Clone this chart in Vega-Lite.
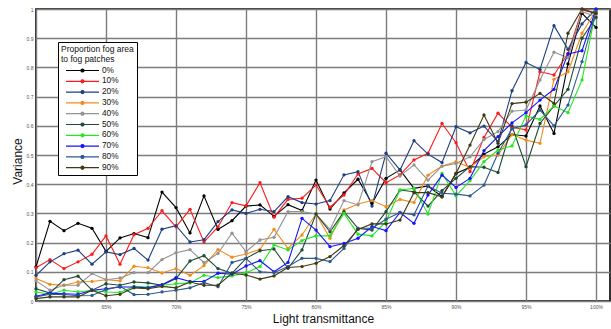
{
"$schema":"https://vega.github.io/schema/vega-lite/v6.json",
"width":574,"height":292,"autosize":"none",
"padding":{"left":36,"top":9,"right":1,"bottom":28},
"background":"white",
"config":{
"font":"Liberation Sans",
"view":{"stroke":"#000","strokeWidth":1.6},
"axis":{"gridColor":"#7c7c7c","gridWidth":1.4,"gridOpacity":1,"domain":false,"ticks":false,"labelFontSize":5,"labelColor":"#555","titleFontWeight":"normal","titleFontSize":12,"titleColor":"#111"},
"legend":{"orient":"none","legendX":22,"legendY":33,"strokeColor":"#000","fillColor":"#fff","padding":3,"titleFontSize":8.5,"titleFontWeight":"normal","titleColor":"#111","titleLineHeight":10,"titlePadding":2,"labelFontSize":8.3,"labelColor":"#111","symbolType":"M0,0H8.25M3.75,0a0.375,0.375 0 1,0 0.75,0a0.375,0.375 0 1,0 -0.75,0","symbolSize":64,"symbolStrokeWidth":1.2,"labelOffset":31,"rowPadding":1.8}
},
"data":{"values":[
{"s":"0%","x":60,"y":0.117},{"s":"0%","x":61,"y":0.273},{"s":"0%","x":62,"y":0.241},{"s":"0%","x":63,"y":0.266},{"s":"0%","x":64,"y":0.249},{"s":"0%","x":65,"y":0.17},{"s":"0%","x":66,"y":0.216},{"s":"0%","x":67,"y":0.231},{"s":"0%","x":68,"y":0.217},{"s":"0%","x":69,"y":0.373},{"s":"0%","x":70,"y":0.32},{"s":"0%","x":71,"y":0.233},{"s":"0%","x":72,"y":0.36},{"s":"0%","x":73,"y":0.245},{"s":"0%","x":74,"y":0.275},{"s":"0%","x":75,"y":0.325},{"s":"0%","x":76,"y":0.329},{"s":"0%","x":77,"y":0.29},{"s":"0%","x":78,"y":0.33},{"s":"0%","x":79,"y":0.31},{"s":"0%","x":80,"y":0.414},{"s":"0%","x":81,"y":0.315},{"s":"0%","x":82,"y":0.37},{"s":"0%","x":83,"y":0.417},{"s":"0%","x":84,"y":0.334},{"s":"0%","x":85,"y":0.42},{"s":"0%","x":86,"y":0.449},{"s":"0%","x":87,"y":0.386},{"s":"0%","x":88,"y":0.394},{"s":"0%","x":89,"y":0.357},{"s":"0%","x":90,"y":0.437},{"s":"0%","x":91,"y":0.458},{"s":"0%","x":92,"y":0.503},{"s":"0%","x":93,"y":0.528},{"s":"0%","x":94,"y":0.57},{"s":"0%","x":95,"y":0.565},{"s":"0%","x":96,"y":0.668},{"s":"0%","x":97,"y":0.574},{"s":"0%","x":98,"y":0.812},{"s":"0%","x":99,"y":0.985},{"s":"0%","x":100,"y":0.937},
{"s":"10%","x":60,"y":0.114},{"s":"10%","x":61,"y":0.142},{"s":"10%","x":62,"y":0.111},{"s":"10%","x":63,"y":0.134},{"s":"10%","x":64,"y":0.16},{"s":"10%","x":65,"y":0.223},{"s":"10%","x":66,"y":0.126},{"s":"10%","x":67,"y":0.227},{"s":"10%","x":68,"y":0.249},{"s":"10%","x":69,"y":0.309},{"s":"10%","x":70,"y":0.254},{"s":"10%","x":71,"y":0.314},{"s":"10%","x":72,"y":0.202},{"s":"10%","x":73,"y":0.254},{"s":"10%","x":74,"y":0.337},{"s":"10%","x":75,"y":0.326},{"s":"10%","x":76,"y":0.405},{"s":"10%","x":77,"y":0.287},{"s":"10%","x":78,"y":0.348},{"s":"10%","x":79,"y":0.352},{"s":"10%","x":80,"y":0.397},{"s":"10%","x":81,"y":0.321},{"s":"10%","x":82,"y":0.363},{"s":"10%","x":83,"y":0.435},{"s":"10%","x":84,"y":0.454},{"s":"10%","x":85,"y":0.405},{"s":"10%","x":86,"y":0.432},{"s":"10%","x":87,"y":0.483},{"s":"10%","x":88,"y":0.506},{"s":"10%","x":89,"y":0.608},{"s":"10%","x":90,"y":0.542},{"s":"10%","x":91,"y":0.443},{"s":"10%","x":92,"y":0.56},{"s":"10%","x":93,"y":0.643},{"s":"10%","x":94,"y":0.595},{"s":"10%","x":95,"y":0.586},{"s":"10%","x":96,"y":0.785},{"s":"10%","x":97,"y":0.774},{"s":"10%","x":98,"y":0.848},{"s":"10%","x":99,"y":0.997},{"s":"10%","x":100,"y":0.985},
{"s":"20%","x":60,"y":0.088},{"s":"20%","x":61,"y":0.134},{"s":"20%","x":62,"y":0.162},{"s":"20%","x":63,"y":0.174},{"s":"20%","x":64,"y":0.126},{"s":"20%","x":65,"y":0.168},{"s":"20%","x":66,"y":0.159},{"s":"20%","x":67,"y":0.18},{"s":"20%","x":68,"y":0.14},{"s":"20%","x":69,"y":0.246},{"s":"20%","x":70,"y":0.258},{"s":"20%","x":71,"y":0.202},{"s":"20%","x":72,"y":0.21},{"s":"20%","x":73,"y":0.272},{"s":"20%","x":74,"y":0.312},{"s":"20%","x":75,"y":0.3},{"s":"20%","x":76,"y":0.314},{"s":"20%","x":77,"y":0.306},{"s":"20%","x":78,"y":0.357},{"s":"20%","x":79,"y":0.337},{"s":"20%","x":80,"y":0.332},{"s":"20%","x":81,"y":0.344},{"s":"20%","x":82,"y":0.432},{"s":"20%","x":83,"y":0.443},{"s":"20%","x":84,"y":0.325},{"s":"20%","x":85,"y":0.506},{"s":"20%","x":86,"y":0.449},{"s":"20%","x":87,"y":0.549},{"s":"20%","x":88,"y":0.503},{"s":"20%","x":89,"y":0.474},{"s":"20%","x":90,"y":0.597},{"s":"20%","x":91,"y":0.576},{"s":"20%","x":92,"y":0.599},{"s":"20%","x":93,"y":0.546},{"s":"20%","x":94,"y":0.72},{"s":"20%","x":95,"y":0.817},{"s":"20%","x":96,"y":0.793},{"s":"20%","x":97,"y":0.943},{"s":"20%","x":98,"y":0.862},{"s":"20%","x":99,"y":0.949},{"s":"20%","x":100,"y":1.0},
{"s":"30%","x":60,"y":0.077},{"s":"30%","x":61,"y":0.057},{"s":"30%","x":62,"y":0.054},{"s":"30%","x":63,"y":0.065},{"s":"30%","x":64,"y":0.067},{"s":"30%","x":65,"y":0.073},{"s":"30%","x":66,"y":0.069},{"s":"30%","x":67,"y":0.119},{"s":"30%","x":68,"y":0.114},{"s":"30%","x":69,"y":0.096},{"s":"30%","x":70,"y":0.111},{"s":"30%","x":71,"y":0.088},{"s":"30%","x":72,"y":0.121},{"s":"30%","x":73,"y":0.176},{"s":"30%","x":74,"y":0.15},{"s":"30%","x":75,"y":0.161},{"s":"30%","x":76,"y":0.177},{"s":"30%","x":77,"y":0.245},{"s":"30%","x":78,"y":0.18},{"s":"30%","x":79,"y":0.226},{"s":"30%","x":80,"y":0.298},{"s":"30%","x":81,"y":0.215},{"s":"30%","x":82,"y":0.312},{"s":"30%","x":83,"y":0.332},{"s":"30%","x":84,"y":0.344},{"s":"30%","x":85,"y":0.323},{"s":"30%","x":86,"y":0.348},{"s":"30%","x":87,"y":0.337},{"s":"30%","x":88,"y":0.431},{"s":"30%","x":89,"y":0.462},{"s":"30%","x":90,"y":0.477},{"s":"30%","x":91,"y":0.458},{"s":"30%","x":92,"y":0.494},{"s":"30%","x":93,"y":0.5},{"s":"30%","x":94,"y":0.57},{"s":"30%","x":95,"y":0.551},{"s":"30%","x":96,"y":0.54},{"s":"30%","x":97,"y":0.759},{"s":"30%","x":98,"y":0.785},{"s":"30%","x":99,"y":0.917},{"s":"30%","x":100,"y":0.995},
{"s":"40%","x":60,"y":0.069},{"s":"40%","x":61,"y":0.037},{"s":"40%","x":62,"y":0.054},{"s":"40%","x":63,"y":0.054},{"s":"40%","x":64,"y":0.094},{"s":"40%","x":65,"y":0.073},{"s":"40%","x":66,"y":0.079},{"s":"40%","x":67,"y":0.097},{"s":"40%","x":68,"y":0.097},{"s":"40%","x":69,"y":0.142},{"s":"40%","x":70,"y":0.165},{"s":"40%","x":71,"y":0.176},{"s":"40%","x":72,"y":0.131},{"s":"40%","x":73,"y":0.163},{"s":"40%","x":74,"y":0.232},{"s":"40%","x":75,"y":0.169},{"s":"40%","x":76,"y":0.209},{"s":"40%","x":77,"y":0.218},{"s":"40%","x":78,"y":0.306},{"s":"40%","x":79,"y":0.306},{"s":"40%","x":80,"y":0.298},{"s":"40%","x":81,"y":0.245},{"s":"40%","x":82,"y":0.344},{"s":"40%","x":83,"y":0.329},{"s":"40%","x":84,"y":0.477},{"s":"40%","x":85,"y":0.494},{"s":"40%","x":86,"y":0.428},{"s":"40%","x":87,"y":0.466},{"s":"40%","x":88,"y":0.414},{"s":"40%","x":89,"y":0.462},{"s":"40%","x":90,"y":0.471},{"s":"40%","x":91,"y":0.494},{"s":"40%","x":92,"y":0.553},{"s":"40%","x":93,"y":0.58},{"s":"40%","x":94,"y":0.65},{"s":"40%","x":95,"y":0.654},{"s":"40%","x":96,"y":0.757},{"s":"40%","x":97,"y":0.852},{"s":"40%","x":98,"y":0.834},{"s":"40%","x":99,"y":0.991},{"s":"40%","x":100,"y":0.974},
{"s":"50%","x":60,"y":0.042},{"s":"50%","x":61,"y":0.027},{"s":"50%","x":62,"y":0.073},{"s":"50%","x":63,"y":0.085},{"s":"50%","x":64,"y":0.037},{"s":"50%","x":65,"y":0.059},{"s":"50%","x":66,"y":0.054},{"s":"50%","x":67,"y":0.065},{"s":"50%","x":68,"y":0.062},{"s":"50%","x":69,"y":0.054},{"s":"50%","x":70,"y":0.077},{"s":"50%","x":71,"y":0.137},{"s":"50%","x":72,"y":0.155},{"s":"50%","x":73,"y":0.111},{"s":"50%","x":74,"y":0.095},{"s":"50%","x":75,"y":0.146},{"s":"50%","x":76,"y":0.172},{"s":"50%","x":77,"y":0.178},{"s":"50%","x":78,"y":0.112},{"s":"50%","x":79,"y":0.175},{"s":"50%","x":80,"y":0.298},{"s":"50%","x":81,"y":0.237},{"s":"50%","x":82,"y":0.306},{"s":"50%","x":83,"y":0.249},{"s":"50%","x":84,"y":0.243},{"s":"50%","x":85,"y":0.306},{"s":"50%","x":86,"y":0.38},{"s":"50%","x":87,"y":0.374},{"s":"50%","x":88,"y":0.325},{"s":"50%","x":89,"y":0.378},{"s":"50%","x":90,"y":0.42},{"s":"50%","x":91,"y":0.46},{"s":"50%","x":92,"y":0.458},{"s":"50%","x":93,"y":0.44},{"s":"50%","x":94,"y":0.6},{"s":"50%","x":95,"y":0.46},{"s":"50%","x":96,"y":0.608},{"s":"50%","x":97,"y":0.668},{"s":"50%","x":98,"y":0.725},{"s":"50%","x":99,"y":0.9},{"s":"50%","x":100,"y":0.971},
{"s":"60%","x":60,"y":0.031},{"s":"60%","x":61,"y":0.023},{"s":"60%","x":62,"y":0.037},{"s":"60%","x":63,"y":0.031},{"s":"60%","x":64,"y":0.037},{"s":"60%","x":65,"y":0.031},{"s":"60%","x":66,"y":0.029},{"s":"60%","x":67,"y":0.05},{"s":"60%","x":68,"y":0.048},{"s":"60%","x":69,"y":0.054},{"s":"60%","x":70,"y":0.059},{"s":"60%","x":71,"y":0.062},{"s":"60%","x":72,"y":0.088},{"s":"60%","x":73,"y":0.08},{"s":"60%","x":74,"y":0.086},{"s":"60%","x":75,"y":0.097},{"s":"60%","x":76,"y":0.118},{"s":"60%","x":77,"y":0.192},{"s":"60%","x":78,"y":0.175},{"s":"60%","x":79,"y":0.207},{"s":"60%","x":80,"y":0.223},{"s":"60%","x":81,"y":0.223},{"s":"60%","x":82,"y":0.3},{"s":"60%","x":83,"y":0.229},{"s":"60%","x":84,"y":0.223},{"s":"60%","x":85,"y":0.272},{"s":"60%","x":86,"y":0.38},{"s":"60%","x":87,"y":0.386},{"s":"60%","x":88,"y":0.298},{"s":"60%","x":89,"y":0.437},{"s":"60%","x":90,"y":0.36},{"s":"60%","x":91,"y":0.412},{"s":"60%","x":92,"y":0.477},{"s":"60%","x":93,"y":0.517},{"s":"60%","x":94,"y":0.531},{"s":"60%","x":95,"y":0.634},{"s":"60%","x":96,"y":0.622},{"s":"60%","x":97,"y":0.668},{"s":"60%","x":98,"y":0.645},{"s":"60%","x":99,"y":0.757},{"s":"60%","x":100,"y":0.997},
{"s":"70%","x":60,"y":0.016},{"s":"70%","x":61,"y":0.027},{"s":"70%","x":62,"y":0.025},{"s":"70%","x":63,"y":0.023},{"s":"70%","x":64,"y":0.037},{"s":"70%","x":65,"y":0.042},{"s":"70%","x":66,"y":0.048},{"s":"70%","x":67,"y":0.048},{"s":"70%","x":68,"y":0.045},{"s":"70%","x":69,"y":0.056},{"s":"70%","x":70,"y":0.08},{"s":"70%","x":71,"y":0.067},{"s":"70%","x":72,"y":0.067},{"s":"70%","x":73,"y":0.095},{"s":"70%","x":74,"y":0.092},{"s":"70%","x":75,"y":0.12},{"s":"70%","x":76,"y":0.138},{"s":"70%","x":77,"y":0.1},{"s":"70%","x":78,"y":0.132},{"s":"70%","x":79,"y":0.283},{"s":"70%","x":80,"y":0.243},{"s":"70%","x":81,"y":0.186},{"s":"70%","x":82,"y":0.197},{"s":"70%","x":83,"y":0.215},{"s":"70%","x":84,"y":0.255},{"s":"70%","x":85,"y":0.241},{"s":"70%","x":86,"y":0.303},{"s":"70%","x":87,"y":0.266},{"s":"70%","x":88,"y":0.363},{"s":"70%","x":89,"y":0.431},{"s":"70%","x":90,"y":0.389},{"s":"70%","x":91,"y":0.42},{"s":"70%","x":92,"y":0.515},{"s":"70%","x":93,"y":0.563},{"s":"70%","x":94,"y":0.61},{"s":"70%","x":95,"y":0.645},{"s":"70%","x":96,"y":0.688},{"s":"70%","x":97,"y":0.725},{"s":"70%","x":98,"y":0.846},{"s":"70%","x":99,"y":0.857},{"s":"70%","x":100,"y":0.999},
{"s":"80%","x":60,"y":0.014},{"s":"80%","x":61,"y":0.023},{"s":"80%","x":62,"y":0.022},{"s":"80%","x":63,"y":0.018},{"s":"80%","x":64,"y":0.019},{"s":"80%","x":65,"y":0.039},{"s":"80%","x":66,"y":0.05},{"s":"80%","x":67,"y":0.022},{"s":"80%","x":68,"y":0.023},{"s":"80%","x":69,"y":0.031},{"s":"80%","x":70,"y":0.037},{"s":"80%","x":71,"y":0.045},{"s":"80%","x":72,"y":0.063},{"s":"80%","x":73,"y":0.049},{"s":"80%","x":74,"y":0.132},{"s":"80%","x":75,"y":0.146},{"s":"80%","x":76,"y":0.1},{"s":"80%","x":77,"y":0.097},{"s":"80%","x":78,"y":0.118},{"s":"80%","x":79,"y":0.146},{"s":"80%","x":80,"y":0.146},{"s":"80%","x":81,"y":0.135},{"s":"80%","x":82,"y":0.18},{"s":"80%","x":83,"y":0.249},{"s":"80%","x":84,"y":0.249},{"s":"80%","x":85,"y":0.28},{"s":"80%","x":86,"y":0.303},{"s":"80%","x":87,"y":0.295},{"s":"80%","x":88,"y":0.394},{"s":"80%","x":89,"y":0.369},{"s":"80%","x":90,"y":0.366},{"s":"80%","x":91,"y":0.36},{"s":"80%","x":92,"y":0.397},{"s":"80%","x":93,"y":0.506},{"s":"80%","x":94,"y":0.59},{"s":"80%","x":95,"y":0.603},{"s":"80%","x":96,"y":0.654},{"s":"80%","x":97,"y":0.6},{"s":"80%","x":98,"y":0.671},{"s":"80%","x":99,"y":0.82},{"s":"80%","x":100,"y":0.991},
{"s":"90%","x":60,"y":0.008},{"s":"90%","x":61,"y":0.014},{"s":"90%","x":62,"y":0.014},{"s":"90%","x":63,"y":0.014},{"s":"90%","x":64,"y":0.037},{"s":"90%","x":65,"y":0.018},{"s":"90%","x":66,"y":0.023},{"s":"90%","x":67,"y":0.045},{"s":"90%","x":68,"y":0.042},{"s":"90%","x":69,"y":0.05},{"s":"90%","x":70,"y":0.045},{"s":"90%","x":71,"y":0.065},{"s":"90%","x":72,"y":0.054},{"s":"90%","x":73,"y":0.054},{"s":"90%","x":74,"y":0.095},{"s":"90%","x":75,"y":0.089},{"s":"90%","x":76,"y":0.075},{"s":"90%","x":77,"y":0.086},{"s":"90%","x":78,"y":0.115},{"s":"90%","x":79,"y":0.118},{"s":"90%","x":80,"y":0.129},{"s":"90%","x":81,"y":0.152},{"s":"90%","x":82,"y":0.19},{"s":"90%","x":83,"y":0.245},{"s":"90%","x":84,"y":0.264},{"s":"90%","x":85,"y":0.264},{"s":"90%","x":86,"y":0.277},{"s":"90%","x":87,"y":0.371},{"s":"90%","x":88,"y":0.371},{"s":"90%","x":89,"y":0.357},{"s":"90%","x":90,"y":0.437},{"s":"90%","x":91,"y":0.534},{"s":"90%","x":92,"y":0.637},{"s":"90%","x":93,"y":0.54},{"s":"90%","x":94,"y":0.676},{"s":"90%","x":95,"y":0.681},{"s":"90%","x":96,"y":0.711},{"s":"90%","x":97,"y":0.677},{"s":"90%","x":98,"y":0.917},{"s":"90%","x":99,"y":1.0},{"s":"90%","x":100,"y":0.985}
]},
"encoding":{
"x":{"field":"x","type":"quantitative","title":"Light transmittance","scale":{"domain":[60,101],"nice":false,"zero":false},"axis":{"values":[60,65,70,75,80,85,90,95,100],"labelExpr":"datum.value == 60 ? '' : datum.value + '%'","labelPadding":3,"titlePadding":4}},
"y":{"field":"y","type":"quantitative","title":"Variance","scale":{"domain":[0,1],"nice":false},"axis":{"values":[0,0.1,0.2,0.3,0.4,0.5,0.6,0.7,0.8,0.9,1],"format":".1~f","labelPadding":3,"titlePadding":2,"titleY":152}},
"color":{"field":"s","type":"nominal","title":["Proportion fog area\u00a0\u00a0\u00a0","to fog patches"],"scale":{"domain":["0%","10%","20%","30%","40%","50%","60%","70%","80%","90%"],"range":["#000000","#ff1a1a","#1f3f80","#f08c1e","#939393","#1f4a35","#22e822","#1414ff","#2d5a8c","#3f3a14"]},"legend":{"encode":{"symbols":{"update":{"fill":{"scale":"color","field":"value"},"stroke":{"scale":"color","field":"value"}}}}}}
},
"layer":[
{"mark":{"type":"line","strokeWidth":1.1}},
{"mark":{"type":"circle","size":11,"opacity":1}}
]
}
